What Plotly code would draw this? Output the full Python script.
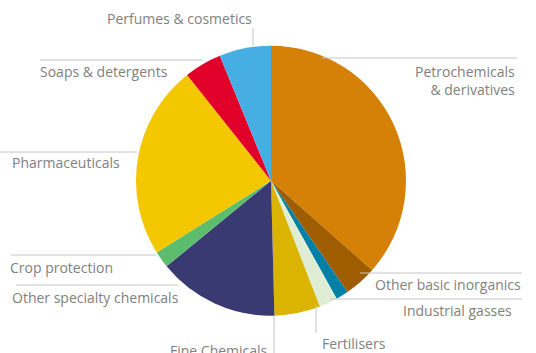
import plotly.graph_objects as go

W, H = 536, 353

sectors = ["Petrochemicals & derivatives", "Other basic inorganics", "Industrial gasses",
           "Fertilisers", "Fine Chemicals", "Other specialty chemicals", "Crop protection",
           "Pharmaceuticals", "Soaps & detergents", "Perfumes & cosmetics"]
shares = [36.6, 3.9, 1.5, 2.2, 5.5, 14.5, 2.0, 23.3, 4.5, 6.2]
colors = ["#d58107", "#a05d00", "#0080a6", "#deedd3", "#dab400", "#393a72",
          "#5dbd6e", "#f3c800", "#e0002a", "#47aee4"]

def px(x):
    return x / W

def py(y):
    return 1 - y / H

cx, cy, r = 271, 180.7, 135

fig = go.Figure(go.Pie(
    labels=sectors, values=shares, sort=False, direction="clockwise", rotation=0,
    marker=dict(colors=colors, line=dict(width=0)),
    textinfo="none", hoverinfo="label+percent", showlegend=False,
    domain=dict(x=[px(cx - r), px(cx + r)], y=[py(cy + r), py(cy - r)]),
))

line_col = "#c4c4c4"
txt_col = "#808080"
font = dict(family="Open Sans, Lato, sans-serif", size=14, color=txt_col)

# leader lines (x0, y0, x1, y1) in pixels
leaders = [
    (253, 28, 253, 46),      # Perfumes
    (40, 60, 203, 60),       # Soaps
    (322, 58, 517, 58),      # Petro
    (0, 152, 137, 152),      # Pharma
    (11, 255, 156, 255),     # Crop
    (16, 285, 178, 285),     # Other specialty
    (274, 316, 274, 353),    # Fine
    (316, 305, 316, 333),    # Fertilisers
    (360, 273, 522, 273),    # Other basic
    (330, 299, 522, 299),    # Industrial gasses
]
shapes = [dict(type="line", xref="paper", yref="paper", x0=px(a), y0=py(b), x1=px(c), y1=py(d),
               line=dict(color=line_col, width=1)) for a, b, c, d in leaders]

# label placements: (text, x, y, xanchor)
placements = [
    ("Perfumes & cosmetics", 254, 19, "right"),
    ("Soaps & detergents", 38, 71, "left"),
    ("Petrochemicals<br>& derivatives", 517, 80, "right"),
    ("Pharmaceuticals", 10, 162, "left"),
    ("Crop protection", 8, 267, "left"),
    ("Other specialty chemicals", 10, 297, "left"),
    ("Fine Chemicals", 270, 350, "right"),
    ("Fertilisers", 320, 343, "left"),
    ("Other basic inorganics", 523, 284, "right"),
    ("Industrial gasses", 514, 310, "right"),
]
annotations = [dict(text=t, x=px(x), y=py(y), xref="paper", yref="paper", xanchor=xa,
                    yanchor="middle", align=xa, showarrow=False, font=font)
               for t, x, y, xa in placements]

fig.update_layout(
    width=W, height=H, margin=dict(l=0, r=0, t=0, b=0),
    paper_bgcolor="white", plot_bgcolor="white",
    shapes=shapes, annotations=annotations,
)

fig.write_html("out.html")
